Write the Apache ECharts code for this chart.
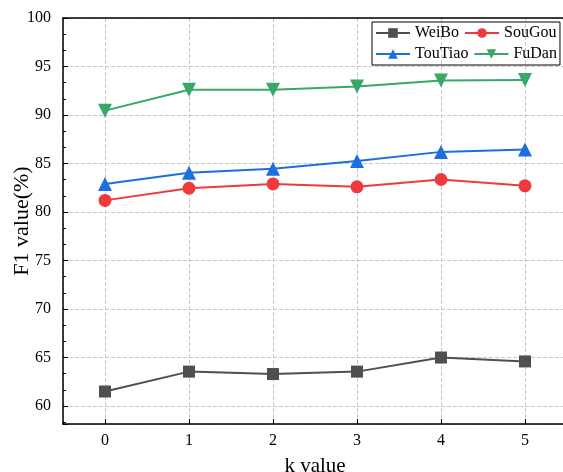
<!DOCTYPE html>
<html>
<head>
<meta charset="utf-8">
<script src="https://cdn.jsdelivr.net/npm/echarts@6/dist/echarts.min.js"></script>
<style>
  html, body { margin: 0; padding: 0; background: #fff; }
  #main { width: 563px; height: 472px; }
</style>
</head>
<body>
<div id="main"></div>
<script>
var kValues = [0, 1, 2, 3, 4, 5];           // x axis: k value
var seriesNames = ['WeiBo', 'SouGou', 'TouTiao', 'FuDan'];

var weiboF1   = [61.5, 63.55, 63.3, 63.55, 65.0, 64.6];
var sougouF1  = [81.2, 82.45, 82.9, 82.6, 83.35, 82.7];
var toutiaoF1 = [82.9, 84.05, 84.45, 85.25, 86.2, 86.45];
var fudanF1   = [90.45, 92.6, 92.6, 92.95, 93.55, 93.6];

var serif = '"Liberation Serif", "DejaVu Serif", serif';

function toPairs(ys) {
    var out = [];
    for (var i = 0; i < kValues.length; i++) {
        out.push([kValues[i], ys[i]]);
    }
    return out;
}

function makeLine(name, ys, color, symbol, size, rotate) {
    return {
        name: name,
        type: 'line',
        data: toPairs(ys),
        symbol: symbol,
        symbolSize: size,
        symbolRotate: rotate || 0,
        color: color,
        lineStyle: { width: 2, color: color },
        itemStyle: { color: color },
        animation: false,
        z: 3
    };
}

var myChart = echarts.init(document.getElementById('main'));
var option = {
    backgroundColor: '#fff',
    textStyle: { fontFamily: serif },
    grid: {
        left: 63,
        top: 18,
        width: 504,
        bottom: 48,
        outerBoundsMode: 'none',
        containLabel: false
    },
    legend: {
        data: seriesNames,
        left: 372,
        top: 22,
        width: 186,
        padding: [3, 3, 3, 3],
        itemGap: 5,
        itemWidth: 34,
        itemHeight: 12,
        borderColor: '#000',
        borderWidth: 1,
        textStyle: { fontFamily: serif, fontSize: 16, color: '#000' }
    },
    xAxis: [{
        type: 'value',
        min: -0.5,
        max: 5.5,
        splitNumber: 6,
        name: 'k value',
        nameLocation: 'middle',
        nameGap: 32,
        nameMoveOverlap: false,
        nameTextStyle: { fontFamily: serif, fontSize: 21, color: '#000', verticalAlign: 'top' },
        axisLine: { onZero: false, lineStyle: { color: '#000', width: 1.5 } },
        axisTick: { inside: true, length: 5, lineStyle: { color: '#000' } },
        axisLabel: {
            showMinLabel: false,
            showMaxLabel: false,
            margin: 9,
            fontFamily: serif,
            fontSize: 16,
            color: '#000'
        },
        splitLine: { show: true, lineStyle: { color: '#c8c8c8', type: 'dashed', width: 1 } }
    }, {
        type: 'value',
        position: 'top',
        min: -0.5,
        max: 5.5,
        splitNumber: 6,
        axisLine: { show: true, onZero: false, lineStyle: { color: '#000', width: 1.5 } },
        axisTick: { show: false },
        axisLabel: { show: false },
        splitLine: { show: false }
    }],
    yAxis: {
        type: 'value',
        min: 58.15,
        max: 100,
        splitNumber: 8,
        name: 'F1 value(%)',
        nameLocation: 'middle',
        nameGap: 30,
        nameMoveOverlap: false,
        nameTextStyle: { fontFamily: serif, fontSize: 22, color: '#000' },
        axisLine: { show: true, onZero: false, lineStyle: { color: '#000', width: 1.5 } },
        axisTick: { inside: true, length: 5, lineStyle: { color: '#000' } },
        minorTick: { show: true, splitNumber: 3, length: 3, lineStyle: { color: '#000' } },
        axisLabel: {
            showMinLabel: false,
            margin: 12,
            fontFamily: serif,
            fontSize: 16,
            color: '#000'
        },
        splitLine: { show: true, lineStyle: { color: '#c8c8c8', type: 'dashed', width: 1 } }
    },
    series: [
        makeLine('WeiBo', weiboF1, '#4f4f4f', 'rect', 12),
        makeLine('SouGou', sougouF1, '#ef3a3d', 'circle', 13),
        makeLine('TouTiao', toutiaoF1, '#1c6fdc', 'triangle', 14),
        makeLine('FuDan', fudanF1, '#38a768', 'triangle', 14, 180)
    ]
};
myChart.setOption(option);
</script>
</body>
</html>
